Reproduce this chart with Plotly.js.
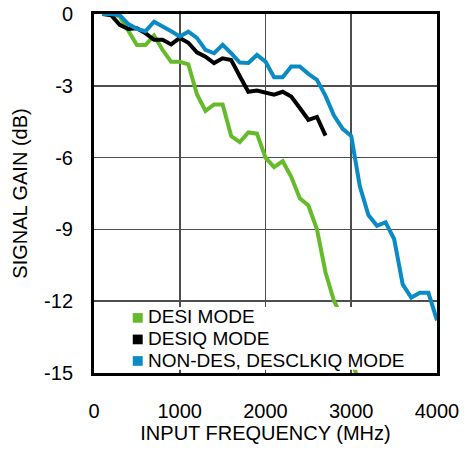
<!DOCTYPE html>
<html>
<head>
<meta charset="utf-8">
<script src="https://cdn.plot.ly/plotly-3.0.1.min.js"></script>
<style>html,body{margin:0;padding:0;background:#fff;}#chart{width:467px;height:451px;}</style>
</head>
<body>
<div id="chart"></div>
<script>
// Data (frequency in MHz, gain in dB)
const desiFreq = [100, 200, 300, 400, 500, 600, 700, 800, 900, 1000, 1100, 1200, 1300, 1400, 1500, 1600, 1700, 1800, 1900, 2000, 2100, 2200, 2300, 2400, 2500, 2600, 2700, 2800, 2830, 2900, 3000, 3100];
const desiGain = [0, 0, -0.1, -0.7, -1.3, -1.3, -0.9, -1.5, -2.0, -2.0, -2.1, -3.35, -4.05, -3.78, -3.78, -5.1, -5.35, -4.95, -5.0, -6.0, -6.4, -6.15, -6.8, -7.7, -8.0, -9.0, -10.8, -12.0, -12.2, -13.4, -14.5, -15.4];

const desiqFreq = [100, 200, 300, 400, 500, 600, 700, 800, 900, 1000, 1100, 1200, 1300, 1400, 1500, 1600, 1700, 1800, 1900, 2000, 2100, 2200, 2300, 2400, 2500, 2600, 2700];
const desiqGain = [0, -0.05, -0.45, -0.63, -0.6, -0.8, -1.08, -1.08, -1.27, -1.0, -1.2, -1.6, -1.78, -2.05, -1.85, -1.92, -2.6, -3.25, -3.2, -3.3, -3.37, -3.25, -3.45, -3.93, -4.42, -4.3, -5.08];

const nondesFreq = [100, 200, 300, 400, 500, 600, 700, 800, 900, 1000, 1100, 1200, 1300, 1400, 1500, 1600, 1700, 1800, 1900, 2000, 2100, 2200, 2300, 2400, 2500, 2600, 2700, 2800, 2900, 3000, 3100, 3200, 3300, 3400, 3500, 3600, 3700, 3800, 3900, 4000];
const nondesGain = [0, 0, -0.05, -0.42, -0.62, -0.72, -0.32, -0.5, -0.72, -0.94, -0.74, -1.0, -1.5, -1.64, -1.29, -1.64, -2.03, -2.05, -1.71, -1.99, -2.64, -2.64, -2.19, -2.19, -2.5, -2.75, -3.42, -4.25, -4.8, -5.1, -7.2, -8.4, -8.85, -8.7, -9.4, -11.3, -11.85, -11.65, -11.65, -12.8];

const seriesNames = ["DESI MODE", "DESIQ MODE", "NON-DES, DESCLKIQ MODE"];
const seriesColors = ["#66bb2a", "#000000", "#0a8bc6"];

const xTickVals = [0, 1000, 2000, 3000, 4000];
const yTickVals = [0, -3, -6, -9, -12, -15];

const xs = [desiFreq, desiqFreq, nondesFreq];
const ys = [desiGain, desiqGain, nondesGain];

const traces = [];
for (let i = 0; i < 3; i++) {
  traces.push({
    x: xs[i], y: ys[i], mode: 'lines', type: 'scatter', name: seriesNames[i],
    line: {color: seriesColors[i], width: 4},
    showlegend: false, hoverinfo: 'skip'
  });
}

const FONT = 'Liberation Sans, Arial, sans-serif';
const font = {family: FONT, size: 20, color: '#000'};
const legendFont = {family: FONT, size: 19, color: '#000'};

// Legend drawn in the plot area (paper coordinates): white box, colour squares, labels
const legendBox = {x0: 0.004, x1: 0.965, y0: 0.009, y1: 0.184};
const legendRowY = [0.156, 0.096, 0.036];
const legendSq = {x0: 0.113, x1: 0.142, h: 0.027};
const legendTextX = 0.155;

const shapes = [{
  type: 'rect', xref: 'paper', yref: 'paper', layer: 'above',
  x0: legendBox.x0, x1: legendBox.x1, y0: legendBox.y0, y1: legendBox.y1,
  fillcolor: '#ffffff', line: {width: 0}
}];
const annotations = [];
for (let i = 0; i < 3; i++) {
  shapes.push({
    type: 'rect', xref: 'paper', yref: 'paper', layer: 'above',
    x0: legendSq.x0, x1: legendSq.x1,
    y0: legendRowY[i] - 0.016, y1: legendRowY[i] - 0.016 + legendSq.h,
    fillcolor: seriesColors[i], line: {width: 0}
  });
  annotations.push({
    xref: 'paper', yref: 'paper', x: legendTextX, y: legendRowY[i],
    xanchor: 'left', yanchor: 'middle', showarrow: false, borderpad: 0,
    text: seriesNames[i], font: legendFont
  });
}

const layout = {
  width: 467, height: 451,
  margin: {l: 94, r: 30, t: 14, b: 78},
  paper_bgcolor: '#fff', plot_bgcolor: '#fff',
  font: font,
  showlegend: false,
  shapes: shapes,
  annotations: annotations,
  xaxis: {
    range: [0, 4000], tickvals: xTickVals, ticktext: xTickVals.map(String),
    showgrid: true, gridcolor: '#4d4d4d', gridwidth: 1.6,
    showline: true, linecolor: '#000', linewidth: 3, mirror: true,
    ticks: '', ticklabelstandoff: 18, zeroline: false,
    tickfont: font,
    title: {text: 'INPUT FREQUENCY (MHz)', font: font, standoff: 1}
  },
  yaxis: {
    range: [-15, 0], tickvals: yTickVals, ticktext: yTickVals.map(String),
    showgrid: true, gridcolor: '#4d4d4d', gridwidth: 1.6,
    showline: true, linecolor: '#000', linewidth: 3, mirror: true,
    ticks: '', ticklabelstandoff: 14, zeroline: false,
    tickfont: font,
    title: {text: 'SIGNAL GAIN (dB)', font: font, standoff: 12}
  }
};

Plotly.newPlot('chart', traces, layout, {displayModeBar: false, staticPlot: true});
</script>
</body>
</html>
